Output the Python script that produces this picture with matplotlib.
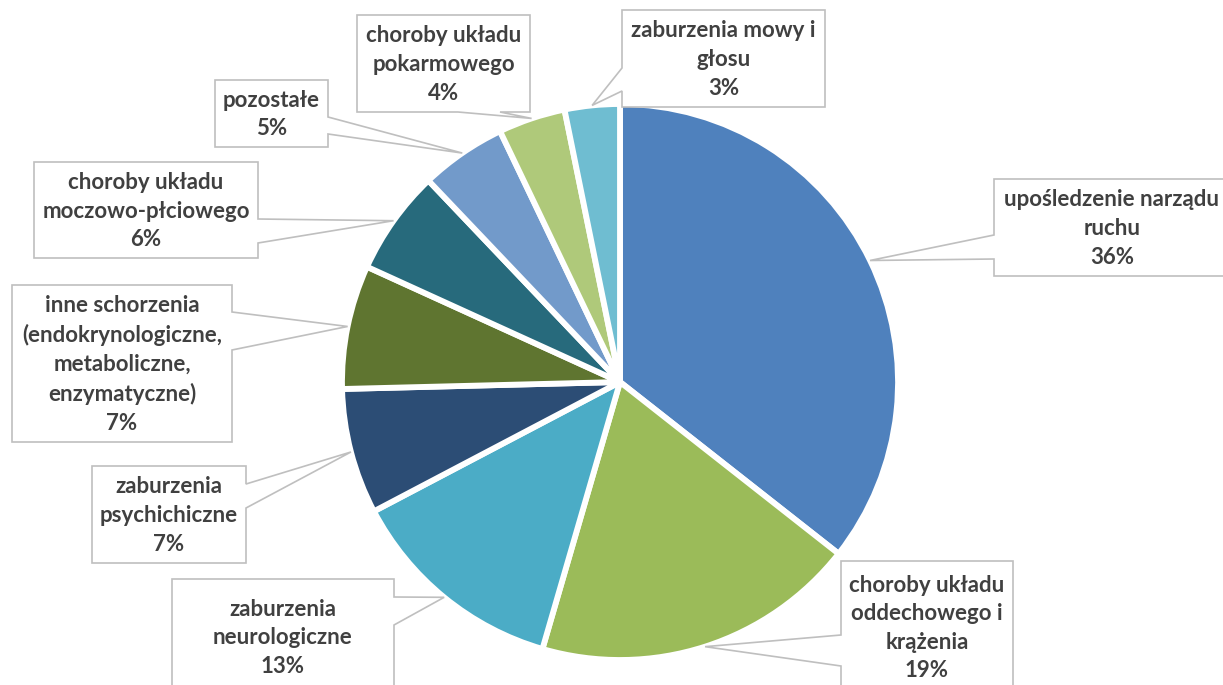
import numpy as np
import matplotlib.pyplot as plt
from matplotlib.patches import Polygon

# Slice data (clockwise from 12 o'clock)
categories = [
    'upośledzenie narządu\nruchu',
    'choroby układu\noddechowego i\nkrążenia',
    'zaburzenia\nneurologiczne',
    'zaburzenia\npsychichiczne',
    'inne schorzenia\n(endokrynologiczne,\nmetaboliczne,\nenzymatyczne)',
    'choroby układu\nmoczowo-płciowego',
    'pozostałe',
    'choroby układu\npokarmowego',
    'zaburzenia mowy i\ngłosu',
]
values = [35.6, 18.9, 12.8, 7.3, 7.2, 6.1, 5.0, 3.9, 3.2]
colors = ['#4F81BD', '#9BBB59', '#4BACC6', '#2C4D75', '#5F7530',
          '#276A7C', '#729ACA', '#AFC97A', '#6FBDD1']

# Callout layout in pixel coords (y down): box, side of pointer, anchors on that side
boxes = [
    (994, 179, 1230, 276), (841, 561, 1013, 693), (172, 579, 394, 695),
    (92, 466, 246, 563), (12, 285, 232, 442), (34, 162, 258, 258),
    (215, 80, 328, 147), (357, 15, 530, 112), (622, 10, 825, 107),
]
sides = ['left', 'left', 'right', 'right', 'right', 'right', 'right', 'bottom', 'left']
anchors = [(235, 259), (635, 666), (597, 625), (484, 508), (312, 350),
           (219, 243), (117, 134), (458, 500), (68, 91)]

W, H = 1223, 685
cx, cy, r = 620, 382, 278

try:
    fig = plt.figure(figsize=(W / 100, H / 100), dpi=100)
    ax = fig.add_axes([0, 0, 1, 1])

    explode = [9 / r] + [0] * (len(values) - 1)
    wedges, _ = ax.pie(values, colors=colors, center=(cx, cy), radius=r,
                       startangle=-90, counterclock=True, explode=explode,
                       wedgeprops=dict(edgecolor='white', linewidth=4.2,
                                       joinstyle='round'))
    ax.set_xlim(0, W)
    ax.set_ylim(H, 0)
    ax.set_aspect('equal')
    ax.axis('off')

    total = sum(values)
    for w, lab, v, box, side, anc in zip(wedges, categories, values, boxes, sides, anchors):
        mid = np.deg2rad((w.theta1 + w.theta2) / 2)
        tx = cx + r * np.cos(mid)
        ty = cy + r * np.sin(mid)
        x0, y0, x1, y1 = box
        a1, a2 = anc
        if side == 'left':
            pts = [(x0, y0), (x1, y0), (x1, y1), (x0, y1), (x0, a2), (tx, ty), (x0, a1)]
        elif side == 'right':
            pts = [(x0, y0), (x1, y0), (x1, a1), (tx, ty), (x1, a2), (x1, y1), (x0, y1)]
        else:
            pts = [(x0, y0), (x1, y0), (x1, y1), (a2, y1), (tx, ty), (a1, y1), (x0, y1)]
        ax.add_patch(Polygon(pts, closed=True, facecolor='white',
                             edgecolor='#BFBFBF', linewidth=1.2, zorder=3,
                             clip_on=False))
        pct = '%d%%' % round(100 * v / total)
        ax.text((x0 + x1) / 2, (y0 + y1) / 2 + 1, lab + '\n' + pct,
                ha='center', va='center', fontsize=16, fontweight='bold',
                family=['Lato', 'DejaVu Sans'], color='#404040',
                linespacing=1.45, zorder=4)

    fig.savefig('out.png', dpi=100)

except Exception as e:
    print("Error:", e)
